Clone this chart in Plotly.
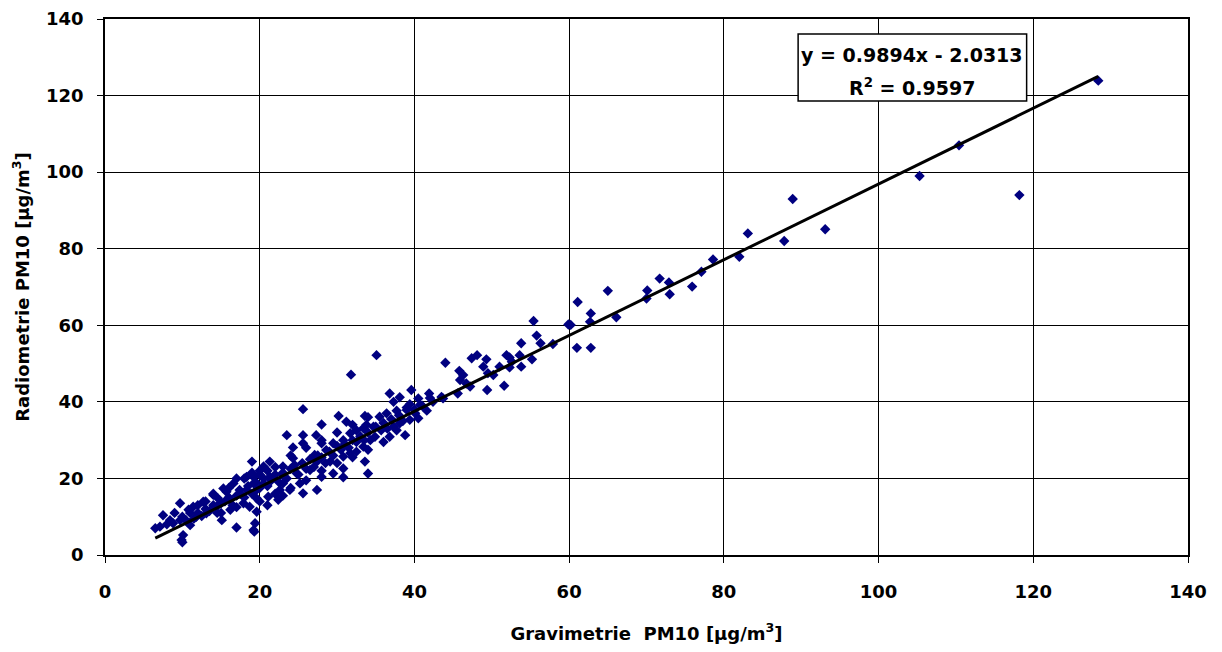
import plotly.graph_objects as go

# Gravimetric PM10 (x) vs radiometric PM10 (y), µg/m³
grav = [
    128.4, 110.4, 105.3, 118.2, 93.1, 88.9, 83.1, 87.8, 82.0, 78.6, 77.1, 75.9, 72.9, 71.7, 73.0,
    70.1, 70.0, 65.0, 66.1, 62.8, 62.7, 61.1, 55.4, 59.9, 60.2, 55.8, 53.8, 56.3, 57.9, 61.0, 62.8,
    47.4, 48.1, 49.3, 48.9, 51.9, 52.3, 53.6, 52.6, 52.3, 53.8, 55.2, 51.0, 50.2, 49.5, 49.4, 51.6,
    35.1, 44.0, 45.8, 46.3, 45.9, 46.7, 45.6, 43.5, 41.9, 39.6, 36.8, 38.1, 37.3, 40.5, 39.4, 40.7,
    41.6, 39.0, 37.7, 36.4, 35.5, 34.0, 33.8, 33.4, 34.7, 35.7, 37.3, 38.1, 39.4, 40.5, 40.1, 38.8,
    36.8, 34.9, 34.3, 37.7, 43.7, 42.4, 47.2,
    25.6, 30.2, 31.2, 28.0, 33.6, 23.5, 25.6, 27.3, 24.3, 25.6, 28.0, 29.5, 31.7, 32.5, 30.8, 32.5,
    33.6, 34.0, 30.8, 28.0, 26.5, 29.1, 27.4, 24.3, 23.0, 21.3, 20.5, 19.0, 19.2, 21.3, 23.0, 24.8,
    25.2, 23.9, 22.4, 21.1, 19.6, 20.5, 25.6, 27.4, 29.5, 30.8, 31.7, 33.4, 30.8, 27.1, 28.6, 23.0,
    22.6, 31.8,
    17.0, 18.3, 15.3, 17.4, 19.2, 14.0, 12.7, 11.4, 9.7, 10.8, 7.5, 8.4, 7.1, 6.5, 9.7, 9.9, 10.1,
    15.1, 17.0, 19.2, 19.4, 16.2, 14.4, 17.9, 18.7, 16.2, 13.1, 11.8, 8.8, 11.0, 15.7, 14.6, 16.6,
    18.3, 19.6, 19.6, 10.0, 19.3,
    10.5, 11.5, 12.0, 12.5, 13.0, 13.5, 14.0, 14.5, 15.0, 15.5, 16.0, 16.5, 17.0, 17.5, 18.0, 18.5,
    19.0, 19.5, 20.0, 20.5, 21.0, 21.5, 22.0, 22.5, 23.0, 23.5, 24.0, 24.5, 25.0, 25.5, 26.0, 26.5,
    27.0, 27.5, 28.0, 28.5, 29.0, 29.5, 30.0, 30.5, 31.0, 31.5, 32.0, 32.5, 33.0, 33.5, 34.0, 35.0,
    36.0, 36.5, 37.0, 38.0, 38.5, 39.0, 40.0, 41.0, 42.0,
    12.0, 14.0, 16.0, 18.0, 20.0, 22.0, 24.0, 26.0, 28.0, 30.0, 32.0, 13.0, 9.0, 8.0, 10.0, 11.0,
    20.0, 21.0, 19.0,
    15.0, 17.0, 20.0, 22.0, 24.0, 26.0, 28.0, 30.0, 32.0, 34.0, 36.0, 21.0, 23.0,
]
radio = [
    123.9, 107.0, 99.0, 94.0, 85.1, 93.0, 84.0, 82.0, 77.9, 77.2, 74.0, 70.1, 71.2, 72.2, 68.1,
    69.1, 67.0, 69.0, 62.1, 63.1, 60.9, 66.1, 61.1, 60.2, 60.1, 57.3, 55.3, 55.3, 55.1, 54.1, 54.1,
    51.4, 52.2, 51.1, 49.2, 52.2, 51.6, 52.2, 50.5, 49.0, 49.2, 51.1, 49.2, 47.0, 47.5, 43.1, 44.2,
    52.2, 50.2, 48.1, 47.0, 45.7, 44.8, 42.2, 41.3, 42.2, 43.1, 42.2, 41.2, 40.0, 40.9, 39.4, 39.2,
    37.7, 37.9, 37.7, 37.0, 36.1, 36.0, 34.0, 33.1, 33.5, 32.6, 33.5, 34.4, 35.3, 35.7, 37.0, 31.3,
    30.9, 30.9, 30.0, 32.6, 40.9, 40.0, 44.0,
    38.1, 36.3, 34.8, 34.1, 36.3, 31.3, 31.3, 31.3, 28.1, 29.2, 29.2, 29.2, 31.8, 32.6, 30.0, 27.0,
    24.4, 21.3, 20.3, 20.4, 22.2, 24.4, 24.4, 25.3, 23.1, 24.4, 23.1, 24.4, 20.4, 20.4, 20.9, 21.3,
    18.7, 17.0, 14.4, 15.2, 17.0, 18.7, 16.1, 17.0, 21.3, 22.6, 26.6, 28.3, 25.7, 26.1, 27.4, 18.7,
    17.0, 47.1,
    20.0, 20.4, 17.4, 17.0, 18.7, 15.7, 13.9, 12.6, 13.5, 11.8, 10.4, 9.1, 7.4, 7.0, 9.1, 3.9, 5.2,
    9.1, 7.2, 6.5, 8.3, 11.8, 12.6, 13.5, 12.6, 14.4, 10.9, 10.0, 8.3, 7.8, 16.5, 14.8, 18.7,
    17.0, 14.8, 11.3, 3.3, 6.1,
    9.0, 9.5, 11.0, 10.2, 12.0, 11.5, 13.0, 11.0, 13.5, 14.0, 15.0, 13.0, 15.5, 16.0, 15.0, 18.0,
    16.0, 19.0, 17.5, 20.0, 18.0, 19.5, 21.0, 19.0, 21.5, 20.0, 22.5, 23.5, 21.0, 24.0, 22.5, 25.0,
    23.0, 26.0, 25.5, 24.0, 27.0, 26.0, 28.5, 27.5, 29.0, 28.0, 30.0, 29.5, 31.0, 30.0, 32.0, 33.5,
    34.5, 33.0, 35.5, 36.5, 35.0, 38.5, 38.0, 39.0, 41.0,
    13.0, 16.0, 17.5, 20.0, 22.0, 23.0, 26.0, 28.0, 30.0, 32.0, 34.0, 14.0, 11.0, 8.0, 10.0, 11.0,
    21.0, 22.0, 21.5,
    11.0, 12.5, 14.0, 16.0, 17.5, 19.5, 22.0, 24.0, 25.5, 27.5, 29.5, 13.0, 15.5,
]

slope = 0.9894
intercept = -2.0313
r_squared = 0.9597

x_ticks = [0, 20, 40, 60, 80, 100, 120, 140]
y_ticks = [0, 20, 40, 60, 80, 100, 120, 140]

FONT = "DejaVu Sans"

x_line = [min(grav), max(grav)]
y_line = [slope * v + intercept for v in x_line]

fig = go.Figure()
fig.add_trace(go.Scatter(
    x=grav, y=radio, mode="markers",
    marker=dict(symbol="diamond", size=8, color="#000080", line=dict(width=0)),
    showlegend=False,
))
fig.add_trace(go.Scatter(
    x=x_line, y=y_line, mode="lines",
    line=dict(color="black", width=3),
    showlegend=False,
))

axis_common = dict(
    showgrid=True, gridcolor="black", gridwidth=1,
    showline=True, linecolor="black", linewidth=1.5, mirror=True,
    ticks="outside", ticklen=6, tickcolor="black", tickwidth=1,
    zeroline=False, automargin=False,
    tickfont=dict(family=FONT, size=18, color="black", weight="bold"),
)

title_font = dict(family=FONT, size=18, color="black", weight="bold")

# page body has an 8px margin, so the figure is shrunk/offset by 8px
fig.update_layout(
    width=1214, height=644,
    margin=dict(l=97, r=34, t=11, b=97),
    paper_bgcolor="white", plot_bgcolor="white",
    xaxis=dict(
        range=[0, 140], tickvals=x_ticks, ticklabelstandoff=14,
        title=dict(text="Gravimetrie\u00a0 PM10 [µg/m<sup>3</sup>]", standoff=26, font=title_font),
        **axis_common,
    ),
    yaxis=dict(
        range=[0, 140], tickvals=y_ticks, ticklabelstandoff=10,
        title=dict(text="Radiometrie PM10 [µg/m<sup>3</sup>]", standoff=12, font=title_font),
        **axis_common,
    ),
    shapes=[dict(
        type="rect", xref="paper", yref="paper",
        x0=0.640, x1=0.851, y0=0.847, y1=0.972,
        line=dict(color="black", width=1.5), fillcolor="white", layer="above",
    )],
    annotations=[
        dict(xref="paper", yref="paper", x=0.7456, y=0.933,
             xanchor="center", yanchor="middle", showarrow=False,
             text=f"y = {slope}x - {abs(intercept)}",
             font=dict(family=FONT, size=19, color="black", weight="bold")),
        dict(xref="paper", yref="paper", x=0.7456, y=0.873,
             xanchor="center", yanchor="middle", showarrow=False,
             text=f"R<sup>2</sup> = {r_squared}",
             font=dict(family=FONT, size=19, color="black", weight="bold")),
    ],
)

fig.write_html("out.html")
